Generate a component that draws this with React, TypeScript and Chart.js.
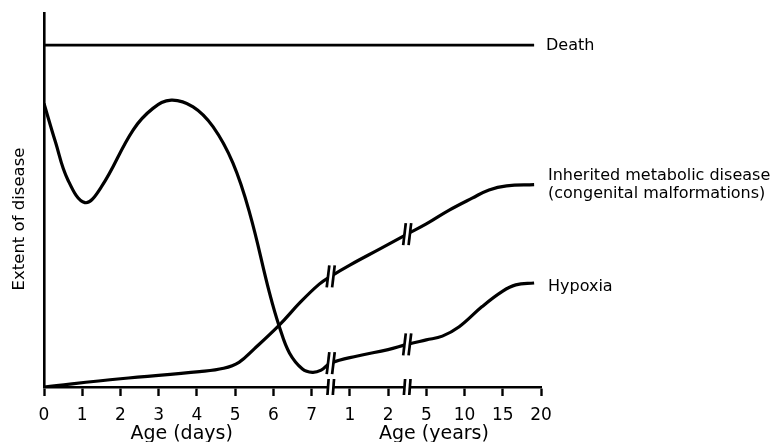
import React, { useEffect, useRef } from "react";
import { Chart, registerables } from "chart.js";

Chart.register(...registerables);

// x positions: 0..7 = days, 8..13 = years (1, 2, 5, 10, 15, 20)
const xTickLabels = ["0", "1", "2", "3", "4", "5", "6", "7", "1", "2", "5", "10", "15", "20"];
const breakXs = [7.5, 9.5];

const deathX = [0, 12.82];
const deathY = [91.4, 91.4];

const hypoxiaX = [0, 0.3, 0.62, 1.07, 1.5, 2.33, 2.85, 3.33, 3.9, 4.42, 4.94, 5.38, 5.9, 6.16, 6.42, 6.76, 7.02, 7.25, 7.5, 8.2, 9.0, 9.5, 10.0, 10.42, 10.86, 11.46, 11.98, 12.34, 12.82];
const hypoxiaY = [75.8, 65.5, 55.5, 49.3, 53.5, 68.7, 74.5, 76.7, 74.9, 69.6, 59.9, 46.5, 25.1, 16.0, 9.1, 4.8, 3.9, 4.5, 6.4, 8.3, 10.0, 11.4, 12.6, 13.6, 16.1, 21.5, 25.5, 27.3, 27.8];

const inheritedX = [0, 2, 4.07, 4.7, 5.1, 5.5, 6.16, 6.7, 7.2, 7.5, 8.0, 8.8, 9.5, 10.0, 10.6, 11.2, 11.64, 12.1, 12.82];
const inheritedY = [0, 2.2, 4.1, 5.0, 6.6, 10.2, 16.6, 22.6, 27.5, 29.6, 32.6, 37.0, 40.9, 43.6, 47.3, 50.5, 52.7, 53.8, 54.1];

const FONT = "'DejaVu Sans', sans-serif";

function zip(xs: number[], ys: number[]) {
  return xs.map((x, i) => ({ x, y: ys[i] }));
}

const breakPlugin = {
  id: "breaksAndLabels",
  afterDatasetsDraw(chart: any) {
    const ctx = chart.ctx;
    const xs = chart.scales.x;
    const ys = chart.scales.y;
    const drawBreak = (px: number, py: number, half: number, slant: number) => {
      const gap = 2.7;
      ctx.save();
      ctx.fillStyle = "#fff";
      ctx.beginPath();
      ctx.moveTo(px - gap + slant, py - half + 2);
      ctx.lineTo(px + gap + slant, py - half + 2);
      ctx.lineTo(px + gap - slant, py + half - 2);
      ctx.lineTo(px - gap - slant, py + half - 2);
      ctx.closePath();
      ctx.fill();
      ctx.strokeStyle = "#000";
      ctx.lineWidth = 2.7;
      ctx.lineCap = "butt";
      for (const off of [-gap, gap]) {
        ctx.beginPath();
        ctx.moveTo(px + off + slant, py - half);
        ctx.lineTo(px + off - slant, py + half);
        ctx.stroke();
      }
      ctx.restore();
    };
    const series = [
      { xs: hypoxiaX, ys: hypoxiaY },
      { xs: inheritedX, ys: inheritedY },
    ];
    for (const bx of breakXs) {
      const px = xs.getPixelForValue(bx);
      for (const s of series) {
        const i = s.xs.indexOf(bx);
        if (i >= 0) drawBreak(px, ys.getPixelForValue(s.ys[i]), 11, 1.3);
      }
      drawBreak(px, ys.getPixelForValue(0), 8, 0.6);
    }

    ctx.save();
    ctx.fillStyle = "#000";
    ctx.textBaseline = "middle";
    ctx.textAlign = "center";
    ctx.font = `19px ${FONT}`;
    ctx.fillText("Age (days)", xs.getPixelForValue(3.6), 434);
    ctx.fillText("Age (years)", xs.getPixelForValue(10.2), 434);
    ctx.font = `16.5px ${FONT}`;
    ctx.save();
    ctx.translate(20, 219);
    ctx.rotate(-Math.PI / 2);
    ctx.fillText("Extent of disease", 0, 0);
    ctx.restore();
    ctx.textAlign = "left";
    ctx.font = `16px ${FONT}`;
    ctx.fillText("Death", 546, ys.getPixelForValue(deathY[1]) + 1);
    ctx.fillText("Inherited metabolic disease", 548, 176);
    ctx.fillText("(congenital malformations)", 548, 194);
    ctx.fillText("Hypoxia", 548, 287);
    ctx.restore();
  },
};

export default function App() {
  const ref = useRef<HTMLCanvasElement | null>(null);
  useEffect(() => {
    if (!ref.current) return;
    const lineStyle = {
      borderColor: "#000",
      borderWidth: 3.2,
      pointRadius: 0,
      fill: false,
      tension: 0.4,
    };
    const chart = new Chart(ref.current, {
      type: "line",
      data: {
        datasets: [
          { label: "Death", data: zip(deathX, deathY), ...lineStyle, borderWidth: 2.6, tension: 0 },
          { label: "Hypoxia", data: zip(hypoxiaX, hypoxiaY), ...lineStyle },
          { label: "Inherited metabolic disease", data: zip(inheritedX, inheritedY), ...lineStyle },
        ],
      },
      options: {
        animation: false,
        responsive: false,
        devicePixelRatio: 1,
        layout: { padding: { top: 13, right: 233, left: 0, bottom: 0 } },
        plugins: { legend: { display: false }, tooltip: { enabled: false } },
        scales: {
          x: {
            type: "linear",
            min: 0,
            max: 13,
            afterFit: (s: any) => { s.height = 55; },
            grid: { drawOnChartArea: false, drawTicks: true, tickLength: 9, tickColor: "#000", tickWidth: 2.4 },
            border: { display: true, color: "#000", width: 2.6 },
            ticks: {
              stepSize: 1,
              autoSkip: false,
              maxRotation: 0,
              color: "#000",
              padding: 9,
              font: { family: FONT, size: 17 },
              callback: (v: any) => xTickLabels[Math.round(Number(v))] ?? "",
            },
          },
          y: {
            min: 0,
            max: 100,
            afterFit: (s: any) => { s.width = 44; },
            ticks: { display: false },
            grid: { drawOnChartArea: false, drawTicks: false },
            border: { display: true, color: "#000", width: 2.6 },
          },
        },
      },
      plugins: [breakPlugin],
    });
    return () => chart.destroy();
  }, []);
  return (
    <div style={{ position: "fixed", left: 0, top: 0, width: 774, height: 442, background: "#fff" }}>
      <canvas ref={ref} width={774} height={442} style={{ display: "block", width: 774, height: 442 }} />
    </div>
  );
}
